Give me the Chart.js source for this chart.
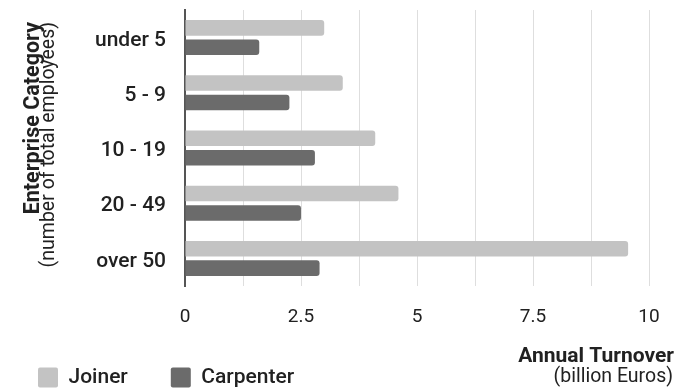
<!DOCTYPE html>
<html>
<head>
<meta charset="utf-8">
<script src="https://cdn.jsdelivr.net/npm/chart.js@4"></script>
<style>
  html, body { margin: 0; padding: 0; background: #fff; }
  #wrap { width: 688px; height: 390px; position: relative; }
</style>
</head>
<body>
<div id="wrap"><canvas id="c" width="688" height="390"></canvas></div>
<script>
// Enterprise size classes and annual turnover (billion euros)
const categories = ['under 5', '5 - 9', '10 - 19', '20 - 49', 'over 50'];
const joiner = [3.0, 3.4, 4.1, 4.6, 9.55];
const carpenter = [1.6, 2.25, 2.8, 2.5, 2.9];
const xTicks = [0, 2.5, 5, 7.5, 10];

const yTitle = ['Enterprise Category', '(number of total employees)'];
const xTitle = ['Annual Turnover', '(billion Euros)'];

const FONT = 'Roboto, "Noto Sans", sans-serif';
const INK = '#212121';

// Draws the two-line axis titles (bold first line, regular second line)
const axisTitles = {
  id: 'axisTitles',
  afterDraw(chart) {
    const ctx = chart.ctx;
    ctx.save();
    ctx.fillStyle = INK;
    // vertical title on the left, both lines ending at the same top edge
    ctx.save();
    ctx.rotate(-Math.PI / 2);
    ctx.textAlign = 'right';
    ctx.textBaseline = 'alphabetic';
    ctx.font = 'bold 21.5px ' + FONT;
    ctx.fillText(yTitle[0], -22, 39);
    ctx.font = '19.5px ' + FONT;
    ctx.fillText(yTitle[1], -22, 54);
    ctx.restore();
    // horizontal title at the bottom right
    ctx.textAlign = 'right';
    ctx.textBaseline = 'alphabetic';
    ctx.font = 'bold 21px ' + FONT;
    ctx.fillText(xTitle[0], 674, 362);
    ctx.font = '19.5px ' + FONT;
    ctx.fillText(xTitle[1], 673, 382);
    ctx.restore();
  }
};

new Chart(document.getElementById('c'), {
  type: 'bar',
  data: {
    labels: categories,
    datasets: [
      { label: 'Joiner', data: joiner, backgroundColor: '#c3c3c3', borderRadius: 3,
        categoryPercentage: 0.705, barPercentage: 0.8 },
      { label: 'Carpenter', data: carpenter, backgroundColor: '#6b6b6b', borderRadius: 3,
        categoryPercentage: 0.705, barPercentage: 0.8 }
    ]
  },
  options: {
    indexAxis: 'y',
    responsive: false,
    animation: false,
    devicePixelRatio: 1,
    layout: { padding: { left: -5, right: 39, top: 10, bottom: -8 } },
    plugins: {
      tooltip: { enabled: false },
      legend: {
        position: 'bottom',
        align: 'start',
        labels: {
          boxWidth: 20,
          boxHeight: 20,
          useBorderRadius: true,
          borderRadius: 2,
          padding: 43,
          color: INK,
          font: { family: FONT, size: 21, weight: '500' }
        }
      }
    },
    scales: {
      x: {
        min: 0,
        max: 10,
        afterBuildTicks(scale) {
          const t = [];
          for (let i = 0; i <= 8; i++) t.push({ value: i * 1.25 });
          scale.ticks = t;
        },
        afterFit(scale) { scale.height = 38; },
        grid: { color: '#dedede', lineWidth: 1, drawTicks: false },
        border: { display: false },
        ticks: {
          padding: 20,
          color: INK,
          maxRotation: 0,
          autoSkip: false,
          font: { family: FONT, size: 19 },
          callback(v) { return xTicks.includes(v) ? String(v) : ''; }
        }
      },
      y: {
        afterFit(scale) {
          scale.width = 190;
          scale.paddingTop = 0;
          scale.paddingBottom = 0;
        },
        grid: { display: false, drawTicks: false },
        border: { display: true, color: '#555', width: 2 },
        ticks: {
          padding: 19,
          color: INK,
          labelOffset: 3,
          font: { family: FONT, size: 21, weight: '500' }
        }
      }
    }
  },
  plugins: [axisTitles]
});
</script>
</body>
</html>
